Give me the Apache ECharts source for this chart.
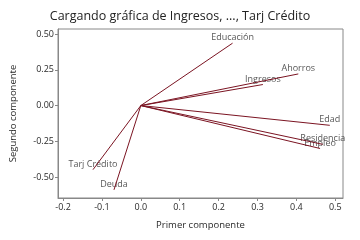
<!DOCTYPE html>
<html><head><meta charset="utf-8">
<script src="https://cdn.jsdelivr.net/npm/echarts@6/dist/echarts.min.js"></script>
<style>html,body{margin:0;padding:0;background:#fff}#c{width:360px;height:240px}</style>
</head><body><div id="c"></div>
<script>
const names = ['Educación','Ahorros','Ingresos','Edad','Residencia','Empleo','Tarj Crédito','Deuda'];
const pc1 = [0.236, 0.405, 0.314, 0.486, 0.468, 0.461, -0.123, -0.069];
const pc2 = [0.436, 0.221, 0.147, -0.138, -0.271, -0.300, -0.448, -0.589];
const xTicks = [-0.2,-0.1,0.0,0.1,0.2,0.3,0.4,0.5];
const yTicks = [-0.5,-0.25,0.0,0.25,0.5];
const font = '"Open Sans", "Noto Sans", sans-serif';
const lineColor = '#7b1422';
const series = names.map((n,i)=>({
  type:'line', name:n, data:[[0,0],[pc1[i],pc2[i]]], symbol:'none', silent:true,
  lineStyle:{color:lineColor, width:1}, animation:false
}));
series.push({
  type:'scatter', data:names.map((n,i)=>({name:n, value:[pc1[i],pc2[i]]})),
  symbolSize:0, animation:false, silent:true,
  label:{show:true, position:'top', distance:1, formatter:p=>p.name, color:'#2a2a2a', fontSize:9, fontFamily:font}
});
const chart = echarts.init(document.getElementById('c'), null, {renderer:'canvas'});
chart.setOption({
  backgroundColor:'#fff',
  animation:false,
  title:{text:'Cargando gráfica de Ingresos, ..., Tarj Crédito', left:'center', top:5,
    textStyle:{fontSize:12.5, fontWeight:'normal', color:'#222', fontFamily:font}},
  grid:{left:58, right:17, top:29, bottom:42, show:true, borderColor:'#888', borderWidth:1},
  xAxis:{type:'value', min:-0.213, max:0.52,
    name:'Primer componente', nameLocation:'middle', nameGap:22,
    nameTextStyle:{fontSize:9.5, color:'#2a2a2a', fontFamily:font},
    axisLine:{show:true, onZero:false, lineStyle:{color:'#888'}},
    axisTick:{show:true, customValues:xTicks, length:3, lineStyle:{color:'#888'}},
    axisLabel:{customValues:xTicks, formatter:v=>v.toFixed(1), fontSize:9, color:'#2a2a2a', fontFamily:font, margin:5},
    splitLine:{show:false}},
  yAxis:{type:'value', min:-0.646, max:0.535,
    name:'Segundo componente', nameLocation:'middle', nameGap:40,
    nameTextStyle:{fontSize:9.5, color:'#2a2a2a', fontFamily:font},
    axisLine:{show:true, onZero:false, lineStyle:{color:'#888'}},
    axisTick:{show:true, customValues:yTicks, length:3, lineStyle:{color:'#888'}},
    axisLabel:{customValues:yTicks, formatter:v=>v.toFixed(2), fontSize:9, color:'#2a2a2a', fontFamily:font, margin:4},
    splitLine:{show:false}},
  series:series
});
</script></body></html>
